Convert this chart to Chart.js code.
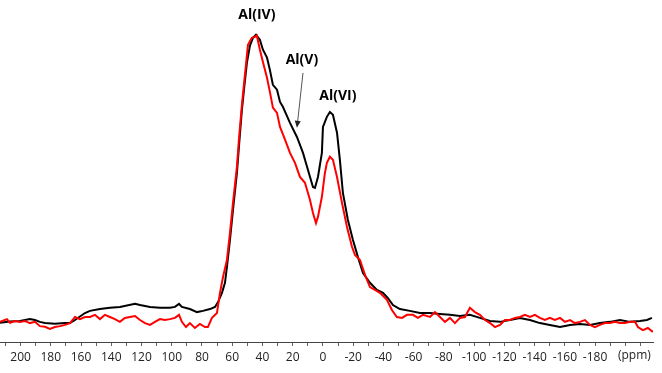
<!DOCTYPE html>
<html lang="en">
<head>
    <meta charset="UTF-8">
    <title>Spectre RMN 27Al</title>
    <style>
        body { margin: 0; background: #fff; }
    </style>
</head>
<body>
    <canvas id="nmr-chart" width="662" height="373"></canvas>

    <script src="https://cdn.jsdelivr.net/npm/chart.js"></script>
    <script>
        // chemical shift (ppm) and intensity of the black spectrum
        const blackPpm = [213.6, 207.0, 200.4, 193.8, 190.5, 187.2, 183.9, 177.3, 170.6, 167.3, 164.0, 157.4, 154.1, 147.5, 140.9, 134.3, 124.3, 121.0, 114.4, 107.8, 101.2, 97.9, 95.2, 93.3, 88.0, 83.3, 79.4, 74.7, 71.4, 69.4, 66.8, 64.8, 63.5, 61.5, 59.5, 56.9, 55.2, 53.6, 51.9, 50.3, 48.3, 46.3, 44.3, 41.7, 39.7, 37.0, 35.1, 33.1, 30.4, 28.4, 26.5, 21.8, 17.2, 13.2, 9.9, 6.6, 5.3, 3.3, 0.7, 0.0, -2.6, -4.6, -6.6, -9.3, -11.2, -13.2, -16.5, -19.8, -23.1, -26.5, -31.1, -35.7, -39.7, -43.0, -46.3, -50.9, -57.5, -64.2, -70.8, -77.4, -84.0, -90.6, -97.2, -103.8, -110.5, -117.1, -123.7, -130.3, -136.9, -143.5, -150.1, -156.8, -163.4, -170.0, -176.6, -183.2, -189.8, -196.4, -203.1, -209.7, -214.3, -217.6];
        const blackInt = [6.3, 6.7, 6.9, 7.5, 7.2, 6.6, 6.2, 6.0, 6.2, 6.2, 7.2, 9.5, 10.2, 10.8, 11.2, 11.5, 12.5, 12.1, 11.5, 11.2, 11.2, 11.5, 12.5, 11.5, 10.8, 9.8, 10.2, 10.8, 11.5, 13.1, 16.1, 19.4, 24.6, 33.5, 43.3, 55.4, 66.3, 76.1, 84.3, 91.5, 97.1, 99.7, 100.7, 99.1, 95.8, 93.2, 89.2, 84.3, 82.7, 78.7, 77.1, 71.8, 67.2, 62.0, 56.4, 50.8, 50.5, 54.1, 62.0, 70.5, 73.8, 75.4, 74.5, 68.6, 59.7, 48.9, 40.0, 33.5, 27.9, 22.6, 19.4, 17.1, 16.1, 14.4, 12.1, 10.8, 10.2, 9.5, 9.5, 9.2, 8.9, 8.5, 8.9, 7.9, 6.9, 6.6, 7.2, 7.9, 7.2, 6.2, 5.6, 4.9, 5.6, 5.9, 5.6, 6.2, 6.6, 7.2, 6.6, 6.9, 7.2, 7.9];

        // chemical shift (ppm) and intensity of the red spectrum
        const redPpm = [213.6, 209.0, 207.0, 203.7, 200.4, 197.1, 193.8, 190.5, 187.2, 183.9, 180.6, 177.3, 173.9, 170.6, 167.3, 164.0, 160.7, 157.4, 154.1, 150.8, 147.5, 144.2, 140.9, 137.6, 134.3, 131.0, 127.7, 124.3, 121.0, 117.7, 114.4, 111.1, 107.8, 104.5, 101.2, 97.9, 95.2, 93.3, 90.6, 88.0, 84.7, 81.4, 78.0, 76.1, 73.4, 70.1, 68.1, 66.1, 63.5, 61.5, 59.5, 56.9, 55.6, 53.6, 51.6, 49.6, 47.0, 45.0, 43.7, 41.7, 39.7, 37.0, 35.1, 33.1, 30.4, 28.4, 25.1, 21.8, 18.5, 15.2, 11.9, 8.6, 6.6, 4.6, 3.3, 0.7, -1.3, -2.6, -4.6, -6.6, -9.3, -12.6, -15.9, -19.2, -21.2, -24.5, -27.8, -31.1, -34.4, -37.7, -42.3, -45.6, -48.9, -52.3, -55.6, -59.5, -62.8, -66.1, -70.8, -74.1, -77.4, -80.7, -84.0, -87.3, -90.6, -93.9, -97.2, -100.5, -103.8, -107.2, -110.5, -113.8, -117.1, -120.4, -123.7, -127.0, -130.3, -133.6, -136.9, -140.2, -143.5, -146.8, -150.1, -153.4, -156.8, -160.1, -163.4, -166.7, -170.0, -173.3, -176.6, -179.9, -183.2, -186.5, -189.8, -193.1, -196.4, -199.7, -203.1, -206.4, -208.3, -211.6, -214.9, -218.2];
        const redInt = [6.6, 7.5, 6.3, 6.9, 6.6, 6.9, 6.2, 6.6, 5.2, 5.0, 4.3, 4.9, 5.2, 5.6, 6.2, 8.2, 7.5, 8.2, 8.2, 8.9, 7.5, 8.9, 8.2, 7.5, 6.6, 7.9, 8.2, 8.5, 7.2, 6.2, 5.6, 6.6, 7.5, 7.2, 7.5, 7.9, 8.9, 6.6, 4.9, 6.2, 4.6, 5.9, 4.9, 4.9, 7.9, 9.5, 16.1, 21.3, 26.9, 35.8, 45.6, 57.4, 66.3, 77.7, 87.6, 97.4, 99.7, 100.0, 100.4, 95.8, 91.8, 86.6, 82.0, 76.8, 75.1, 70.5, 66.3, 62.0, 58.7, 54.1, 52.2, 46.6, 42.3, 39.0, 41.0, 47.6, 55.4, 58.7, 60.7, 59.7, 54.1, 45.6, 37.7, 31.2, 28.5, 26.9, 22.0, 18.0, 17.1, 16.1, 13.8, 10.5, 8.2, 7.9, 8.9, 8.9, 7.9, 8.9, 8.2, 9.8, 8.2, 6.6, 7.9, 6.2, 7.9, 8.2, 11.2, 9.8, 8.9, 7.2, 6.2, 4.9, 5.6, 7.2, 7.2, 7.9, 8.2, 8.9, 8.2, 8.9, 7.9, 7.2, 7.9, 7.2, 7.9, 6.6, 7.2, 6.2, 6.6, 7.2, 5.6, 4.9, 5.6, 6.2, 6.2, 6.6, 6.2, 6.2, 6.6, 6.6, 4.9, 3.9, 4.6, 3.3];

        // axis ticks every 10 ppm, labels every 20 (the -200 slot is left empty)
        const tickValues = [210, 200, 190, 180, 170, 160, 150, 140, 130, 120, 110, 100, 90, 80, 70, 60, 50, 40, 30, 20, 10, 0, -10, -20, -30, -40, -50, -60, -70, -80, -90, -100, -110, -120, -130, -140, -150, -160, -170, -180, -190, -200, -210];
        const unitLabel = '(ppm)';
        const unitLabelPpm = -206;

        // peak labels: [text, ppm, intensity]
        const peakLabels = [
            ['Al(IV)', 43.7, 107.3],
            ['Al(V)', 13.9, 92.5],
            ['Al(VI)', -9.9, 80.7]
        ];
        // arrow for Al(V): from [ppm, intensity] to [ppm, intensity]
        const arrowFrom = [13.2, 88.2];
        const arrowTo = [17.2, 70.2];

        function toPoints(xs, ys) {
            return xs.map((x, i) => ({ x: x, y: ys[i] }));
        }

        const peakLabelsPlugin = {
            id: 'peakLabels',
            afterDatasetsDraw(chart) {
                const ctx = chart.ctx;
                const xs = chart.scales.x;
                const ys = chart.scales.y;
                ctx.save();
                ctx.fillStyle = '#000';
                ctx.font = 'bold 14px "Open Sans"';
                ctx.textAlign = 'center';
                ctx.textBaseline = 'middle';
                peakLabels.forEach(l => {
                    ctx.fillText(l[0], xs.getPixelForValue(l[1]), ys.getPixelForValue(l[2]));
                });

                // arrow pointing at the Al(V) shoulder
                const x1 = xs.getPixelForValue(arrowFrom[0]);
                const y1 = ys.getPixelForValue(arrowFrom[1]);
                const x2 = xs.getPixelForValue(arrowTo[0]);
                const y2 = ys.getPixelForValue(arrowTo[1]);
                const ang = Math.atan2(y2 - y1, x2 - x1);
                ctx.strokeStyle = '#555';
                ctx.fillStyle = '#222';
                ctx.lineWidth = 1;
                ctx.beginPath();
                ctx.moveTo(x1, y1);
                ctx.lineTo(x2 - 4 * Math.cos(ang), y2 - 4 * Math.sin(ang));
                ctx.stroke();
                ctx.beginPath();
                ctx.moveTo(x2, y2);
                ctx.lineTo(x2 - 7 * Math.cos(ang) + 3 * Math.sin(ang), y2 - 7 * Math.sin(ang) - 3 * Math.cos(ang));
                ctx.lineTo(x2 - 7 * Math.cos(ang) - 3 * Math.sin(ang), y2 - 7 * Math.sin(ang) + 3 * Math.cos(ang));
                ctx.closePath();
                ctx.fill();

                // unit label at the right end of the axis
                ctx.fillStyle = '#222';
                ctx.font = '12px "Open Sans"';
                ctx.fillText(unitLabel, xs.getPixelForValue(unitLabelPpm), chart.chartArea.bottom + 14);
                ctx.restore();
            }
        };

        const ctx = document.getElementById('nmr-chart').getContext('2d');
        window.nmrChart = new Chart(ctx, {
            type: 'line',
            data: {
                datasets: [
                    {
                        label: 'rouge',
                        data: toPoints(redPpm, redInt),
                        borderColor: '#ff0000',
                        borderWidth: 2,
                        pointRadius: 0,
                        tension: 0,
                        fill: false
                    },
                    {
                        label: 'noir',
                        data: toPoints(blackPpm, blackInt),
                        borderColor: '#000000',
                        borderWidth: 2,
                        pointRadius: 0,
                        tension: 0,
                        fill: false
                    }
                ]
            },
            options: {
                responsive: false,
                animation: false,
                layout: { padding: { left: 0, right: 9, top: 0, bottom: 0 } },
                plugins: {
                    legend: { display: false },
                    tooltip: { enabled: false }
                },
                scales: {
                    x: {
                        type: 'linear',
                        reverse: true,
                        min: -218.3,
                        max: 213.6,
                        afterBuildTicks: function(scale) {
                            scale.ticks = tickValues.map(v => ({ value: v }));
                        },
                        afterFit: function(scale) {
                            scale.height = 31;
                        },
                        border: { display: true, color: '#444', width: 1 },
                        grid: {
                            drawOnChartArea: false,
                            drawTicks: true,
                            tickLength: 4,
                            color: '#666'
                        },
                        ticks: {
                            autoSkip: false,
                            maxRotation: 0,
                            padding: 4,
                            color: '#222',
                            font: { family: '"Open Sans"', size: 12 },
                            callback: function(value) {
                                if (value === -200) return '';
                                if (value % 20 !== 0) return '';
                                return String(value);
                            }
                        }
                    },
                    y: {
                        display: false,
                        min: 0,
                        max: 112.1
                    }
                }
            },
            plugins: [peakLabelsPlugin]
        });
    </script>
</body>
</html>
